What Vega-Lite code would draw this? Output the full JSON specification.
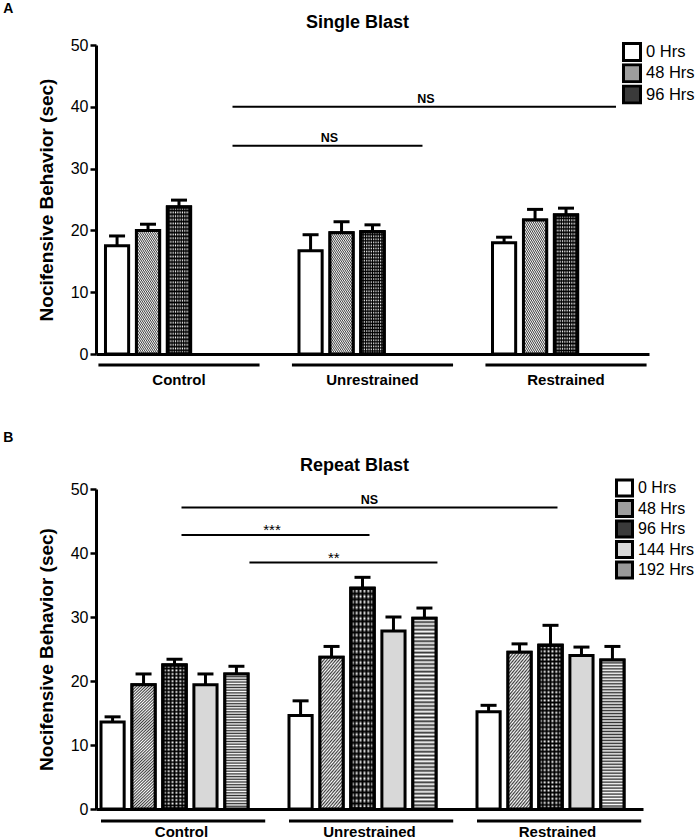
{
"$schema":"https://vega.github.io/schema/vega-lite/v6.json",
"padding":{"left":3,"top":2,"right":0,"bottom":0},
"background":"white",
"resolve":{"scale":{"fill":"independent"},"legend":{"fill":"independent"}},
"config":{"font":"Liberation Sans","view":{"stroke":null},
"title":{"color":"black"},
"axisX":{"labelAngle":0,"ticks":false,"labelFontSize":15,"labelFontWeight":"bold","labelPadding":18,"domainWidth":3,"domainColor":"black","labelColor":"black","grid":false},
"axisY":{"domainWidth":3,"domainColor":"black","tickColor":"black","tickWidth":2.5,"tickSize":6,"tickCount":5,"labelColor":"black","labelFontSize":16,"labelPadding":2,"titleFontSize":19,"titleFontWeight":"bold","titleColor":"black","titlePadding":14,"grid":false},
"legend":{"symbolType":"square","symbolStrokeWidth":3,"symbolStrokeColor":"black","labelColor":"black","labelOffset":4}
},
"datasets":{
"single":[
{"group":"Control","time":"0 Hrs","mean":17.5,"upper":19.1},
{"group":"Control","time":"48 Hrs","mean":20.0,"upper":21.0},
{"group":"Control","time":"96 Hrs","mean":23.8,"upper":24.9},
{"group":"Unrestrained","time":"0 Hrs","mean":16.7,"upper":19.3},
{"group":"Unrestrained","time":"48 Hrs","mean":19.6,"upper":21.4},
{"group":"Unrestrained","time":"96 Hrs","mean":19.8,"upper":20.9},
{"group":"Restrained","time":"0 Hrs","mean":18.0,"upper":18.9},
{"group":"Restrained","time":"48 Hrs","mean":21.7,"upper":23.4},
{"group":"Restrained","time":"96 Hrs","mean":22.5,"upper":23.6}],
"repeat":[
{"group":"Control","time":"0 Hrs","mean":13.6,"upper":14.4},
{"group":"Control","time":"48 Hrs","mean":19.4,"upper":21.1},
{"group":"Control","time":"96 Hrs","mean":22.5,"upper":23.4},
{"group":"Control","time":"144 Hrs","mean":19.4,"upper":21.1},
{"group":"Control","time":"192 Hrs","mean":21.1,"upper":22.3},
{"group":"Unrestrained","time":"0 Hrs","mean":14.6,"upper":16.9},
{"group":"Unrestrained","time":"48 Hrs","mean":23.7,"upper":25.4},
{"group":"Unrestrained","time":"96 Hrs","mean":34.5,"upper":36.2},
{"group":"Unrestrained","time":"144 Hrs","mean":27.8,"upper":30.0},
{"group":"Unrestrained","time":"192 Hrs","mean":29.8,"upper":31.4},
{"group":"Restrained","time":"0 Hrs","mean":15.2,"upper":16.2},
{"group":"Restrained","time":"48 Hrs","mean":24.5,"upper":25.8},
{"group":"Restrained","time":"96 Hrs","mean":25.6,"upper":28.7},
{"group":"Restrained","time":"144 Hrs","mean":24.0,"upper":25.3},
{"group":"Restrained","time":"192 Hrs","mean":23.3,"upper":25.4}],
"groups":[{"group":"Control"},{"group":"Unrestrained"},{"group":"Restrained"}],
"sigA":[
{"id":1,"from":"Control","to":"Restrained","y":40,"label":"NS","lg":"Unrestrained"},
{"id":2,"from":"Control","to":"Unrestrained","y":33.7,"label":"NS","lg":"Unrestrained"}],
"sigB":[
{"id":1,"from":"Control","to":"Restrained","y":47.1,"label":"NS","lg":"Unrestrained"},
{"id":2,"from":"Control","to":"Unrestrained","y":42.8,"label":"***","lg":"Control"},
{"id":3,"from":"Control","to":"Unrestrained","y":38.5,"label":"**","lg":"Unrestrained"}]
},
"spacing":44,
"vconcat":[
{"title":{"text":"A","anchor":"start","fontSize":14,"fontWeight":"bold","offset":-2,"dx":-34},
"vconcat":[{
"width":553,"height":309,
"title":{"text":"Single Blast","fontSize":18,"fontWeight":"bold","anchor":"middle","frame":"group","dx":-15,"offset":5},
"layer":[
{"data":{"name":"single"},"mark":{"type":"bar","stroke":"black","strokeWidth":3},
"encoding":{
"x":{"field":"group","type":"nominal","title":null,"scale":{"domain":["Control","Unrestrained","Restrained"],"paddingInner":0.2403,"paddingOuter":0.049}},
"xOffset":{"field":"time","type":"nominal","scale":{"domain":["0 Hrs","48 Hrs","96 Hrs"],"paddingInner":0.252,"paddingOuter":0}},
"y":{"field":"mean","type":"quantitative","title":"Nocifensive Behavior (sec)","scale":{"domain":[0,50],"nice":false}},
"fill":{"field":"time","type":"nominal","scale":{"domain":["0 Hrs","48 Hrs","96 Hrs"],"range":["#ffffff","#9e9e9e","#3a3a3a"]},"legend":{"orient":"none","legendX":526,"legendY":-3,"title":null,"symbolSize":289,"clipHeight":20,"rowPadding":1.25,"labelFontSize":16.5}}}},
{"data":{"name":"single"},"transform":[{"filter":"datum.time === '48 Hrs'"}],
"mark":{"type":"bar","stroke":"black","strokeWidth":3,"fill":{"gradient":"linear","x1":0,"y1":0,"x2":0.383,"y2":1.197,"stops":[{"offset":0,"color":"#3c3c3c"},{"offset":0.01,"color":"#fff"},{"offset":0.02,"color":"#3c3c3c"},{"offset":0.03,"color":"#fff"},{"offset":0.04,"color":"#3c3c3c"},{"offset":0.05,"color":"#fff"},{"offset":0.06,"color":"#3c3c3c"},{"offset":0.07,"color":"#fff"},{"offset":0.08,"color":"#3c3c3c"},{"offset":0.09,"color":"#fff"},{"offset":0.1,"color":"#3c3c3c"},{"offset":0.11,"color":"#fff"},{"offset":0.12,"color":"#3c3c3c"},{"offset":0.13,"color":"#fff"},{"offset":0.14,"color":"#3c3c3c"},{"offset":0.15,"color":"#fff"},{"offset":0.16,"color":"#3c3c3c"},{"offset":0.17,"color":"#fff"},{"offset":0.18,"color":"#3c3c3c"},{"offset":0.19,"color":"#fff"},{"offset":0.2,"color":"#3c3c3c"},{"offset":0.21,"color":"#fff"},{"offset":0.22,"color":"#3c3c3c"},{"offset":0.23,"color":"#fff"},{"offset":0.24,"color":"#3c3c3c"},{"offset":0.25,"color":"#fff"},{"offset":0.26,"color":"#3c3c3c"},{"offset":0.27,"color":"#fff"},{"offset":0.28,"color":"#3c3c3c"},{"offset":0.29,"color":"#fff"},{"offset":0.3,"color":"#3c3c3c"},{"offset":0.31,"color":"#fff"},{"offset":0.32,"color":"#3c3c3c"},{"offset":0.33,"color":"#fff"},{"offset":0.34,"color":"#3c3c3c"},{"offset":0.35,"color":"#fff"},{"offset":0.36,"color":"#3c3c3c"},{"offset":0.37,"color":"#fff"},{"offset":0.38,"color":"#3c3c3c"},{"offset":0.39,"color":"#fff"},{"offset":0.4,"color":"#3c3c3c"},{"offset":0.41,"color":"#fff"},{"offset":0.42,"color":"#3c3c3c"},{"offset":0.43,"color":"#fff"},{"offset":0.44,"color":"#3c3c3c"},{"offset":0.45,"color":"#fff"},{"offset":0.46,"color":"#3c3c3c"},{"offset":0.47,"color":"#fff"},{"offset":0.48,"color":"#3c3c3c"},{"offset":0.49,"color":"#fff"},{"offset":0.5,"color":"#3c3c3c"},{"offset":0.51,"color":"#fff"},{"offset":0.52,"color":"#3c3c3c"},{"offset":0.53,"color":"#fff"},{"offset":0.54,"color":"#3c3c3c"},{"offset":0.55,"color":"#fff"},{"offset":0.56,"color":"#3c3c3c"},{"offset":0.57,"color":"#fff"},{"offset":0.58,"color":"#3c3c3c"},{"offset":0.59,"color":"#fff"},{"offset":0.6,"color":"#3c3c3c"},{"offset":0.61,"color":"#fff"},{"offset":0.62,"color":"#3c3c3c"},{"offset":0.63,"color":"#fff"},{"offset":0.64,"color":"#3c3c3c"},{"offset":0.65,"color":"#fff"},{"offset":0.66,"color":"#3c3c3c"},{"offset":0.67,"color":"#fff"},{"offset":0.68,"color":"#3c3c3c"},{"offset":0.69,"color":"#fff"},{"offset":0.7,"color":"#3c3c3c"},{"offset":0.71,"color":"#fff"},{"offset":0.72,"color":"#3c3c3c"},{"offset":0.73,"color":"#fff"},{"offset":0.74,"color":"#3c3c3c"},{"offset":0.75,"color":"#fff"},{"offset":0.76,"color":"#3c3c3c"},{"offset":0.77,"color":"#fff"},{"offset":0.78,"color":"#3c3c3c"},{"offset":0.79,"color":"#fff"},{"offset":0.8,"color":"#3c3c3c"},{"offset":0.81,"color":"#fff"},{"offset":0.82,"color":"#3c3c3c"},{"offset":0.83,"color":"#fff"},{"offset":0.84,"color":"#3c3c3c"},{"offset":0.85,"color":"#fff"},{"offset":0.86,"color":"#3c3c3c"},{"offset":0.87,"color":"#fff"},{"offset":0.88,"color":"#3c3c3c"},{"offset":0.89,"color":"#fff"},{"offset":0.9,"color":"#3c3c3c"},{"offset":0.91,"color":"#fff"},{"offset":0.92,"color":"#3c3c3c"},{"offset":0.93,"color":"#fff"},{"offset":0.94,"color":"#3c3c3c"},{"offset":0.95,"color":"#fff"},{"offset":0.96,"color":"#3c3c3c"},{"offset":0.97,"color":"#fff"},{"offset":0.98,"color":"#3c3c3c"},{"offset":0.99,"color":"#fff"},{"offset":1,"color":"#3c3c3c"}]}},
"encoding":{
"x":{"field":"group","type":"nominal","title":null,"scale":{"domain":["Control","Unrestrained","Restrained"]}},
"xOffset":{"field":"time","type":"nominal","scale":{"domain":["0 Hrs","48 Hrs","96 Hrs"]}},
"y":{"field":"mean","type":"quantitative"}}},
{"data":{"name":"single"},"transform":[{"filter":"datum.time === '96 Hrs'"}],
"mark":{"type":"bar","stroke":"black","strokeWidth":3,"fill":{"gradient":"linear","x1":0,"y1":0,"x2":0,"y2":1,"stops":[{"offset":0,"color":"#000"},{"offset":0.0125,"color":"#fff"},{"offset":0.025,"color":"#000"},{"offset":0.0375,"color":"#fff"},{"offset":0.05,"color":"#000"},{"offset":0.0625,"color":"#fff"},{"offset":0.075,"color":"#000"},{"offset":0.0875,"color":"#fff"},{"offset":0.1,"color":"#000"},{"offset":0.1125,"color":"#fff"},{"offset":0.125,"color":"#000"},{"offset":0.1375,"color":"#fff"},{"offset":0.15,"color":"#000"},{"offset":0.1625,"color":"#fff"},{"offset":0.175,"color":"#000"},{"offset":0.1875,"color":"#fff"},{"offset":0.2,"color":"#000"},{"offset":0.2125,"color":"#fff"},{"offset":0.225,"color":"#000"},{"offset":0.2375,"color":"#fff"},{"offset":0.25,"color":"#000"},{"offset":0.2625,"color":"#fff"},{"offset":0.275,"color":"#000"},{"offset":0.2875,"color":"#fff"},{"offset":0.3,"color":"#000"},{"offset":0.3125,"color":"#fff"},{"offset":0.325,"color":"#000"},{"offset":0.3375,"color":"#fff"},{"offset":0.35,"color":"#000"},{"offset":0.3625,"color":"#fff"},{"offset":0.375,"color":"#000"},{"offset":0.3875,"color":"#fff"},{"offset":0.4,"color":"#000"},{"offset":0.4125,"color":"#fff"},{"offset":0.425,"color":"#000"},{"offset":0.4375,"color":"#fff"},{"offset":0.45,"color":"#000"},{"offset":0.4625,"color":"#fff"},{"offset":0.475,"color":"#000"},{"offset":0.4875,"color":"#fff"},{"offset":0.5,"color":"#000"},{"offset":0.5125,"color":"#fff"},{"offset":0.525,"color":"#000"},{"offset":0.5375,"color":"#fff"},{"offset":0.55,"color":"#000"},{"offset":0.5625,"color":"#fff"},{"offset":0.575,"color":"#000"},{"offset":0.5875,"color":"#fff"},{"offset":0.6,"color":"#000"},{"offset":0.6125,"color":"#fff"},{"offset":0.625,"color":"#000"},{"offset":0.6375,"color":"#fff"},{"offset":0.65,"color":"#000"},{"offset":0.6625,"color":"#fff"},{"offset":0.675,"color":"#000"},{"offset":0.6875,"color":"#fff"},{"offset":0.7,"color":"#000"},{"offset":0.7125,"color":"#fff"},{"offset":0.725,"color":"#000"},{"offset":0.7375,"color":"#fff"},{"offset":0.75,"color":"#000"},{"offset":0.7625,"color":"#fff"},{"offset":0.775,"color":"#000"},{"offset":0.7875,"color":"#fff"},{"offset":0.8,"color":"#000"},{"offset":0.8125,"color":"#fff"},{"offset":0.825,"color":"#000"},{"offset":0.8375,"color":"#fff"},{"offset":0.85,"color":"#000"},{"offset":0.8625,"color":"#fff"},{"offset":0.875,"color":"#000"},{"offset":0.8875,"color":"#fff"},{"offset":0.9,"color":"#000"},{"offset":0.9125,"color":"#fff"},{"offset":0.925,"color":"#000"},{"offset":0.9375,"color":"#fff"},{"offset":0.95,"color":"#000"},{"offset":0.9625,"color":"#fff"},{"offset":0.975,"color":"#000"},{"offset":0.9875,"color":"#fff"},{"offset":1,"color":"#000"}]}},
"encoding":{
"x":{"field":"group","type":"nominal","title":null,"scale":{"domain":["Control","Unrestrained","Restrained"]}},
"xOffset":{"field":"time","type":"nominal","scale":{"domain":["0 Hrs","48 Hrs","96 Hrs"]}},
"y":{"field":"mean","type":"quantitative"}}},
{"data":{"name":"single"},"transform":[{"filter":"datum.time === '96 Hrs'"}],
"mark":{"type":"bar","stroke":"black","strokeWidth":3,"fill":{"gradient":"linear","x1":0,"y1":0,"x2":1,"y2":0,"stops":[{"offset":0,"color":"#000"},{"offset":0.05,"color":"rgba(0,0,0,0)"},{"offset":0.1,"color":"#000"},{"offset":0.15,"color":"rgba(0,0,0,0)"},{"offset":0.2,"color":"#000"},{"offset":0.25,"color":"rgba(0,0,0,0)"},{"offset":0.3,"color":"#000"},{"offset":0.35,"color":"rgba(0,0,0,0)"},{"offset":0.4,"color":"#000"},{"offset":0.45,"color":"rgba(0,0,0,0)"},{"offset":0.5,"color":"#000"},{"offset":0.55,"color":"rgba(0,0,0,0)"},{"offset":0.6,"color":"#000"},{"offset":0.65,"color":"rgba(0,0,0,0)"},{"offset":0.7,"color":"#000"},{"offset":0.75,"color":"rgba(0,0,0,0)"},{"offset":0.8,"color":"#000"},{"offset":0.85,"color":"rgba(0,0,0,0)"},{"offset":0.9,"color":"#000"},{"offset":0.95,"color":"rgba(0,0,0,0)"},{"offset":1,"color":"#000"}]}},
"encoding":{
"x":{"field":"group","type":"nominal","title":null,"scale":{"domain":["Control","Unrestrained","Restrained"]}},
"xOffset":{"field":"time","type":"nominal","scale":{"domain":["0 Hrs","48 Hrs","96 Hrs"]}},
"y":{"field":"mean","type":"quantitative"}}},
{"data":{"name":"single"},"mark":{"type":"rule","color":"black","strokeWidth":3},
"encoding":{
"x":{"field":"group","type":"nominal","title":null,"scale":{"domain":["Control","Unrestrained","Restrained"]}},
"xOffset":{"field":"time","type":"nominal","scale":{"domain":["0 Hrs","48 Hrs","96 Hrs"]}},
"y":{"field":"mean","type":"quantitative"},"y2":{"field":"upper"}}},
{"data":{"name":"single"},"mark":{"type":"tick","color":"black","orient":"horizontal","size":16,"thickness":3,"opacity":1},
"encoding":{
"x":{"field":"group","type":"nominal","title":null,"scale":{"domain":["Control","Unrestrained","Restrained"]}},
"xOffset":{"field":"time","type":"nominal","scale":{"domain":["0 Hrs","48 Hrs","96 Hrs"]}},
"y":{"field":"upper","type":"quantitative"}}},
{"data":{"name":"groups"},"mark":{"type":"rule","color":"black","strokeWidth":3},
"encoding":{
"x":{"field":"group","type":"nominal","title":null,"bandPosition":-0.048,"scale":{"domain":["Control","Unrestrained","Restrained"]}},
"x2":{"field":"group","bandPosition":1.048},
"y":{"datum":-1.78,"type":"quantitative"}}},
{"data":{"name":"sigA"},"mark":{"type":"rule","color":"black","strokeWidth":2},
"encoding":{
"x":{"field":"from","type":"nominal","title":null,"bandPosition":0.864,"scale":{"domain":["Control","Unrestrained","Restrained"]}},
"x2":{"field":"to","bandPosition":0.84},
"y":{"field":"y","type":"quantitative"}}},
{"data":{"name":"sigA"},"transform":[{"filter":"datum.id === 1"}],"mark":{"type":"text","fontSize":12.5,"fontWeight":"bold","baseline":"alphabetic","dy":-3.5,"color":"black"},
"encoding":{
"x":{"field":"lg","type":"nominal","title":null,"bandPosition":0.864,"scale":{"domain":["Control","Unrestrained","Restrained"]}},
"y":{"field":"y","type":"quantitative"},"text":{"field":"label"}}},
{"data":{"name":"sigA"},"transform":[{"filter":"datum.id === 2"}],"mark":{"type":"text","fontSize":12.5,"fontWeight":"bold","baseline":"alphabetic","dy":-3.5,"color":"black"},
"encoding":{
"x":{"field":"lg","type":"nominal","title":null,"bandPosition":0.207,"scale":{"domain":["Control","Unrestrained","Restrained"]}},
"y":{"field":"y","type":"quantitative"},"text":{"field":"label"}}}
]}]},
{"title":{"text":"B","anchor":"start","fontSize":14,"fontWeight":"bold","offset":12,"dx":-34},
"vconcat":[{
"width":547,"height":320,
"title":{"text":"Repeat Blast","fontSize":18,"fontWeight":"bold","anchor":"middle","frame":"group","dx":-15,"offset":6},
"layer":[
{"data":{"name":"repeat"},"mark":{"type":"bar","stroke":"black","strokeWidth":3},
"encoding":{
"x":{"field":"group","type":"nominal","title":null,"scale":{"domain":["Control","Unrestrained","Restrained"],"paddingInner":0.1436,"paddingOuter":0.0266},"axis":{"labelPadding":15}},
"xOffset":{"field":"time","type":"nominal","scale":{"domain":["0 Hrs","48 Hrs","96 Hrs","144 Hrs","192 Hrs"],"paddingInner":0.2625,"paddingOuter":0}},
"y":{"field":"mean","type":"quantitative","title":"Nocifensive Behavior (sec)","scale":{"domain":[0,50],"nice":false}},
"fill":{"field":"time","type":"nominal","scale":{"domain":["0 Hrs","48 Hrs","96 Hrs","144 Hrs","192 Hrs"],"range":["#ffffff","#9e9e9e","#3a3a3a","#d8d8d8","#9a9a9a"]},"legend":{"orient":"none","legendX":519,"legendY":-11,"title":null,"symbolSize":256,"clipHeight":20,"rowPadding":0.5,"labelFontSize":16}}}},
{"data":{"name":"repeat"},"transform":[{"filter":"datum.time === '48 Hrs'"}],
"mark":{"type":"bar","stroke":"black","strokeWidth":3,"fill":{"gradient":"linear","x1":0,"y1":0,"x2":0.206,"y2":1.143,"stops":[{"offset":0,"color":"#3c3c3c"},{"offset":0.01,"color":"#fff"},{"offset":0.02,"color":"#3c3c3c"},{"offset":0.03,"color":"#fff"},{"offset":0.04,"color":"#3c3c3c"},{"offset":0.05,"color":"#fff"},{"offset":0.06,"color":"#3c3c3c"},{"offset":0.07,"color":"#fff"},{"offset":0.08,"color":"#3c3c3c"},{"offset":0.09,"color":"#fff"},{"offset":0.1,"color":"#3c3c3c"},{"offset":0.11,"color":"#fff"},{"offset":0.12,"color":"#3c3c3c"},{"offset":0.13,"color":"#fff"},{"offset":0.14,"color":"#3c3c3c"},{"offset":0.15,"color":"#fff"},{"offset":0.16,"color":"#3c3c3c"},{"offset":0.17,"color":"#fff"},{"offset":0.18,"color":"#3c3c3c"},{"offset":0.19,"color":"#fff"},{"offset":0.2,"color":"#3c3c3c"},{"offset":0.21,"color":"#fff"},{"offset":0.22,"color":"#3c3c3c"},{"offset":0.23,"color":"#fff"},{"offset":0.24,"color":"#3c3c3c"},{"offset":0.25,"color":"#fff"},{"offset":0.26,"color":"#3c3c3c"},{"offset":0.27,"color":"#fff"},{"offset":0.28,"color":"#3c3c3c"},{"offset":0.29,"color":"#fff"},{"offset":0.3,"color":"#3c3c3c"},{"offset":0.31,"color":"#fff"},{"offset":0.32,"color":"#3c3c3c"},{"offset":0.33,"color":"#fff"},{"offset":0.34,"color":"#3c3c3c"},{"offset":0.35,"color":"#fff"},{"offset":0.36,"color":"#3c3c3c"},{"offset":0.37,"color":"#fff"},{"offset":0.38,"color":"#3c3c3c"},{"offset":0.39,"color":"#fff"},{"offset":0.4,"color":"#3c3c3c"},{"offset":0.41,"color":"#fff"},{"offset":0.42,"color":"#3c3c3c"},{"offset":0.43,"color":"#fff"},{"offset":0.44,"color":"#3c3c3c"},{"offset":0.45,"color":"#fff"},{"offset":0.46,"color":"#3c3c3c"},{"offset":0.47,"color":"#fff"},{"offset":0.48,"color":"#3c3c3c"},{"offset":0.49,"color":"#fff"},{"offset":0.5,"color":"#3c3c3c"},{"offset":0.51,"color":"#fff"},{"offset":0.52,"color":"#3c3c3c"},{"offset":0.53,"color":"#fff"},{"offset":0.54,"color":"#3c3c3c"},{"offset":0.55,"color":"#fff"},{"offset":0.56,"color":"#3c3c3c"},{"offset":0.57,"color":"#fff"},{"offset":0.58,"color":"#3c3c3c"},{"offset":0.59,"color":"#fff"},{"offset":0.6,"color":"#3c3c3c"},{"offset":0.61,"color":"#fff"},{"offset":0.62,"color":"#3c3c3c"},{"offset":0.63,"color":"#fff"},{"offset":0.64,"color":"#3c3c3c"},{"offset":0.65,"color":"#fff"},{"offset":0.66,"color":"#3c3c3c"},{"offset":0.67,"color":"#fff"},{"offset":0.68,"color":"#3c3c3c"},{"offset":0.69,"color":"#fff"},{"offset":0.7,"color":"#3c3c3c"},{"offset":0.71,"color":"#fff"},{"offset":0.72,"color":"#3c3c3c"},{"offset":0.73,"color":"#fff"},{"offset":0.74,"color":"#3c3c3c"},{"offset":0.75,"color":"#fff"},{"offset":0.76,"color":"#3c3c3c"},{"offset":0.77,"color":"#fff"},{"offset":0.78,"color":"#3c3c3c"},{"offset":0.79,"color":"#fff"},{"offset":0.8,"color":"#3c3c3c"},{"offset":0.81,"color":"#fff"},{"offset":0.82,"color":"#3c3c3c"},{"offset":0.83,"color":"#fff"},{"offset":0.84,"color":"#3c3c3c"},{"offset":0.85,"color":"#fff"},{"offset":0.86,"color":"#3c3c3c"},{"offset":0.87,"color":"#fff"},{"offset":0.88,"color":"#3c3c3c"},{"offset":0.89,"color":"#fff"},{"offset":0.9,"color":"#3c3c3c"},{"offset":0.91,"color":"#fff"},{"offset":0.92,"color":"#3c3c3c"},{"offset":0.93,"color":"#fff"},{"offset":0.94,"color":"#3c3c3c"},{"offset":0.95,"color":"#fff"},{"offset":0.96,"color":"#3c3c3c"},{"offset":0.97,"color":"#fff"},{"offset":0.98,"color":"#3c3c3c"},{"offset":0.99,"color":"#fff"},{"offset":1,"color":"#3c3c3c"}]}},
"encoding":{
"x":{"field":"group","type":"nominal","title":null,"scale":{"domain":["Control","Unrestrained","Restrained"]}},
"xOffset":{"field":"time","type":"nominal","scale":{"domain":["0 Hrs","48 Hrs","96 Hrs","144 Hrs","192 Hrs"]}},
"y":{"field":"mean","type":"quantitative"}}},
{"data":{"name":"repeat"},"transform":[{"filter":"datum.time === '96 Hrs'"}],
"mark":{"type":"bar","stroke":"black","strokeWidth":3,"fill":{"gradient":"linear","x1":0,"y1":0,"x2":0,"y2":1,"stops":[{"offset":0,"color":"#000"},{"offset":0.0125,"color":"#fff"},{"offset":0.025,"color":"#000"},{"offset":0.0375,"color":"#fff"},{"offset":0.05,"color":"#000"},{"offset":0.0625,"color":"#fff"},{"offset":0.075,"color":"#000"},{"offset":0.0875,"color":"#fff"},{"offset":0.1,"color":"#000"},{"offset":0.1125,"color":"#fff"},{"offset":0.125,"color":"#000"},{"offset":0.1375,"color":"#fff"},{"offset":0.15,"color":"#000"},{"offset":0.1625,"color":"#fff"},{"offset":0.175,"color":"#000"},{"offset":0.1875,"color":"#fff"},{"offset":0.2,"color":"#000"},{"offset":0.2125,"color":"#fff"},{"offset":0.225,"color":"#000"},{"offset":0.2375,"color":"#fff"},{"offset":0.25,"color":"#000"},{"offset":0.2625,"color":"#fff"},{"offset":0.275,"color":"#000"},{"offset":0.2875,"color":"#fff"},{"offset":0.3,"color":"#000"},{"offset":0.3125,"color":"#fff"},{"offset":0.325,"color":"#000"},{"offset":0.3375,"color":"#fff"},{"offset":0.35,"color":"#000"},{"offset":0.3625,"color":"#fff"},{"offset":0.375,"color":"#000"},{"offset":0.3875,"color":"#fff"},{"offset":0.4,"color":"#000"},{"offset":0.4125,"color":"#fff"},{"offset":0.425,"color":"#000"},{"offset":0.4375,"color":"#fff"},{"offset":0.45,"color":"#000"},{"offset":0.4625,"color":"#fff"},{"offset":0.475,"color":"#000"},{"offset":0.4875,"color":"#fff"},{"offset":0.5,"color":"#000"},{"offset":0.5125,"color":"#fff"},{"offset":0.525,"color":"#000"},{"offset":0.5375,"color":"#fff"},{"offset":0.55,"color":"#000"},{"offset":0.5625,"color":"#fff"},{"offset":0.575,"color":"#000"},{"offset":0.5875,"color":"#fff"},{"offset":0.6,"color":"#000"},{"offset":0.6125,"color":"#fff"},{"offset":0.625,"color":"#000"},{"offset":0.6375,"color":"#fff"},{"offset":0.65,"color":"#000"},{"offset":0.6625,"color":"#fff"},{"offset":0.675,"color":"#000"},{"offset":0.6875,"color":"#fff"},{"offset":0.7,"color":"#000"},{"offset":0.7125,"color":"#fff"},{"offset":0.725,"color":"#000"},{"offset":0.7375,"color":"#fff"},{"offset":0.75,"color":"#000"},{"offset":0.7625,"color":"#fff"},{"offset":0.775,"color":"#000"},{"offset":0.7875,"color":"#fff"},{"offset":0.8,"color":"#000"},{"offset":0.8125,"color":"#fff"},{"offset":0.825,"color":"#000"},{"offset":0.8375,"color":"#fff"},{"offset":0.85,"color":"#000"},{"offset":0.8625,"color":"#fff"},{"offset":0.875,"color":"#000"},{"offset":0.8875,"color":"#fff"},{"offset":0.9,"color":"#000"},{"offset":0.9125,"color":"#fff"},{"offset":0.925,"color":"#000"},{"offset":0.9375,"color":"#fff"},{"offset":0.95,"color":"#000"},{"offset":0.9625,"color":"#fff"},{"offset":0.975,"color":"#000"},{"offset":0.9875,"color":"#fff"},{"offset":1,"color":"#000"}]}},
"encoding":{
"x":{"field":"group","type":"nominal","title":null,"scale":{"domain":["Control","Unrestrained","Restrained"]}},
"xOffset":{"field":"time","type":"nominal","scale":{"domain":["0 Hrs","48 Hrs","96 Hrs","144 Hrs","192 Hrs"]}},
"y":{"field":"mean","type":"quantitative"}}},
{"data":{"name":"repeat"},"transform":[{"filter":"datum.time === '96 Hrs'"}],
"mark":{"type":"bar","stroke":"black","strokeWidth":3,"fill":{"gradient":"linear","x1":0,"y1":0,"x2":1,"y2":0,"stops":[{"offset":0,"color":"#000"},{"offset":0.0833,"color":"rgba(0,0,0,0)"},{"offset":0.1667,"color":"#000"},{"offset":0.25,"color":"rgba(0,0,0,0)"},{"offset":0.3333,"color":"#000"},{"offset":0.4167,"color":"rgba(0,0,0,0)"},{"offset":0.5,"color":"#000"},{"offset":0.5833,"color":"rgba(0,0,0,0)"},{"offset":0.6667,"color":"#000"},{"offset":0.75,"color":"rgba(0,0,0,0)"},{"offset":0.8333,"color":"#000"},{"offset":0.9167,"color":"rgba(0,0,0,0)"},{"offset":1,"color":"#000"}]}},
"encoding":{
"x":{"field":"group","type":"nominal","title":null,"scale":{"domain":["Control","Unrestrained","Restrained"]}},
"xOffset":{"field":"time","type":"nominal","scale":{"domain":["0 Hrs","48 Hrs","96 Hrs","144 Hrs","192 Hrs"]}},
"y":{"field":"mean","type":"quantitative"}}},
{"data":{"name":"repeat"},"transform":[{"filter":"datum.time === '192 Hrs'"}],
"mark":{"type":"bar","stroke":"black","strokeWidth":3,"fill":{"gradient":"linear","x1":0,"y1":0,"x2":0,"y2":1,"stops":[{"offset":0,"color":"#333"},{"offset":0.01,"color":"#fff"},{"offset":0.02,"color":"#333"},{"offset":0.03,"color":"#fff"},{"offset":0.04,"color":"#333"},{"offset":0.05,"color":"#fff"},{"offset":0.06,"color":"#333"},{"offset":0.07,"color":"#fff"},{"offset":0.08,"color":"#333"},{"offset":0.09,"color":"#fff"},{"offset":0.1,"color":"#333"},{"offset":0.11,"color":"#fff"},{"offset":0.12,"color":"#333"},{"offset":0.13,"color":"#fff"},{"offset":0.14,"color":"#333"},{"offset":0.15,"color":"#fff"},{"offset":0.16,"color":"#333"},{"offset":0.17,"color":"#fff"},{"offset":0.18,"color":"#333"},{"offset":0.19,"color":"#fff"},{"offset":0.2,"color":"#333"},{"offset":0.21,"color":"#fff"},{"offset":0.22,"color":"#333"},{"offset":0.23,"color":"#fff"},{"offset":0.24,"color":"#333"},{"offset":0.25,"color":"#fff"},{"offset":0.26,"color":"#333"},{"offset":0.27,"color":"#fff"},{"offset":0.28,"color":"#333"},{"offset":0.29,"color":"#fff"},{"offset":0.3,"color":"#333"},{"offset":0.31,"color":"#fff"},{"offset":0.32,"color":"#333"},{"offset":0.33,"color":"#fff"},{"offset":0.34,"color":"#333"},{"offset":0.35,"color":"#fff"},{"offset":0.36,"color":"#333"},{"offset":0.37,"color":"#fff"},{"offset":0.38,"color":"#333"},{"offset":0.39,"color":"#fff"},{"offset":0.4,"color":"#333"},{"offset":0.41,"color":"#fff"},{"offset":0.42,"color":"#333"},{"offset":0.43,"color":"#fff"},{"offset":0.44,"color":"#333"},{"offset":0.45,"color":"#fff"},{"offset":0.46,"color":"#333"},{"offset":0.47,"color":"#fff"},{"offset":0.48,"color":"#333"},{"offset":0.49,"color":"#fff"},{"offset":0.5,"color":"#333"},{"offset":0.51,"color":"#fff"},{"offset":0.52,"color":"#333"},{"offset":0.53,"color":"#fff"},{"offset":0.54,"color":"#333"},{"offset":0.55,"color":"#fff"},{"offset":0.56,"color":"#333"},{"offset":0.57,"color":"#fff"},{"offset":0.58,"color":"#333"},{"offset":0.59,"color":"#fff"},{"offset":0.6,"color":"#333"},{"offset":0.61,"color":"#fff"},{"offset":0.62,"color":"#333"},{"offset":0.63,"color":"#fff"},{"offset":0.64,"color":"#333"},{"offset":0.65,"color":"#fff"},{"offset":0.66,"color":"#333"},{"offset":0.67,"color":"#fff"},{"offset":0.68,"color":"#333"},{"offset":0.69,"color":"#fff"},{"offset":0.7,"color":"#333"},{"offset":0.71,"color":"#fff"},{"offset":0.72,"color":"#333"},{"offset":0.73,"color":"#fff"},{"offset":0.74,"color":"#333"},{"offset":0.75,"color":"#fff"},{"offset":0.76,"color":"#333"},{"offset":0.77,"color":"#fff"},{"offset":0.78,"color":"#333"},{"offset":0.79,"color":"#fff"},{"offset":0.8,"color":"#333"},{"offset":0.81,"color":"#fff"},{"offset":0.82,"color":"#333"},{"offset":0.83,"color":"#fff"},{"offset":0.84,"color":"#333"},{"offset":0.85,"color":"#fff"},{"offset":0.86,"color":"#333"},{"offset":0.87,"color":"#fff"},{"offset":0.88,"color":"#333"},{"offset":0.89,"color":"#fff"},{"offset":0.9,"color":"#333"},{"offset":0.91,"color":"#fff"},{"offset":0.92,"color":"#333"},{"offset":0.93,"color":"#fff"},{"offset":0.94,"color":"#333"},{"offset":0.95,"color":"#fff"},{"offset":0.96,"color":"#333"},{"offset":0.97,"color":"#fff"},{"offset":0.98,"color":"#333"},{"offset":0.99,"color":"#fff"},{"offset":1,"color":"#333"}]}},
"encoding":{
"x":{"field":"group","type":"nominal","title":null,"scale":{"domain":["Control","Unrestrained","Restrained"]}},
"xOffset":{"field":"time","type":"nominal","scale":{"domain":["0 Hrs","48 Hrs","96 Hrs","144 Hrs","192 Hrs"]}},
"y":{"field":"mean","type":"quantitative"}}},
{"data":{"name":"repeat"},"mark":{"type":"rule","color":"black","strokeWidth":3},
"encoding":{
"x":{"field":"group","type":"nominal","title":null,"scale":{"domain":["Control","Unrestrained","Restrained"]}},
"xOffset":{"field":"time","type":"nominal","scale":{"domain":["0 Hrs","48 Hrs","96 Hrs","144 Hrs","192 Hrs"]}},
"y":{"field":"mean","type":"quantitative"},"y2":{"field":"upper"}}},
{"data":{"name":"repeat"},"mark":{"type":"tick","color":"black","orient":"horizontal","size":16,"thickness":3,"opacity":1},
"encoding":{
"x":{"field":"group","type":"nominal","title":null,"scale":{"domain":["Control","Unrestrained","Restrained"]}},
"xOffset":{"field":"time","type":"nominal","scale":{"domain":["0 Hrs","48 Hrs","96 Hrs","144 Hrs","192 Hrs"]}},
"y":{"field":"upper","type":"quantitative"}}},
{"data":{"name":"groups"},"mark":{"type":"rule","color":"black","strokeWidth":3},
"encoding":{
"x":{"field":"group","type":"nominal","title":null,"bandPosition":0,"scale":{"domain":["Control","Unrestrained","Restrained"]}},
"x2":{"field":"group","bandPosition":1.02},
"y":{"datum":-1.875,"type":"quantitative"}}},
{"data":{"name":"sigB"},"transform":[{"filter":"datum.id !== 3"}],"mark":{"type":"rule","color":"black","strokeWidth":2},
"encoding":{
"x":{"field":"from","type":"nominal","title":null,"bandPosition":0.5,"scale":{"domain":["Control","Unrestrained","Restrained"]}},
"x2":{"field":"to","bandPosition":0.5},
"y":{"field":"y","type":"quantitative"}}},
{"data":{"name":"sigB"},"transform":[{"filter":"datum.id === 3"}],"mark":{"type":"rule","color":"black","strokeWidth":2},
"encoding":{
"x":{"field":"from","type":"nominal","title":null,"bandPosition":0.922,"scale":{"domain":["Control","Unrestrained","Restrained"]}},
"x2":{"field":"to","bandPosition":0.922},
"y":{"field":"y","type":"quantitative"}}},
{"data":{"name":"sigB"},"transform":[{"filter":"datum.id === 1"}],"mark":{"type":"text","fontSize":12.5,"fontWeight":"bold","baseline":"alphabetic","dy":-3.5,"color":"black"},
"encoding":{
"x":{"field":"lg","type":"nominal","title":null,"bandPosition":0.5,"scale":{"domain":["Control","Unrestrained","Restrained"]}},
"y":{"field":"y","type":"quantitative"},"text":{"field":"label"}}},
{"data":{"name":"sigB"},"transform":[{"filter":"datum.id === 2"}],"mark":{"type":"text","fontSize":15,"baseline":"alphabetic","dy":0,"color":"black"},
"encoding":{
"x":{"field":"lg","type":"nominal","title":null,"bandPosition":1.062,"scale":{"domain":["Control","Unrestrained","Restrained"]}},
"y":{"field":"y","type":"quantitative"},"text":{"field":"label"}}},
{"data":{"name":"sigB"},"transform":[{"filter":"datum.id === 3"}],"mark":{"type":"text","fontSize":15,"baseline":"alphabetic","dy":0,"color":"black"},
"encoding":{
"x":{"field":"lg","type":"nominal","title":null,"bandPosition":0.278,"scale":{"domain":["Control","Unrestrained","Restrained"]}},
"y":{"field":"y","type":"quantitative"},"text":{"field":"label"}}}
]}]}
]
}
